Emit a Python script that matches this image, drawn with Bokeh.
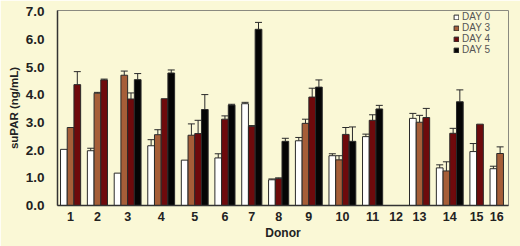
import math
from bokeh.plotting import figure
from bokeh.models import (ColumnDataSource, Range1d, FixedTicker, PrintfTickFormatter,
                          Legend, LegendItem, Whisker, TeeHead)
from bokeh.embed import file_html
from bokeh.resources import INLINE

nan = float("nan")

donors = ["1", "2", "3", "4", "5", "6", "7", "8", "9", "10", "11", "12", "13", "14", "15", "16"]
series_names = ["DAY 0", "DAY 3", "DAY 4", "DAY 5"]
day0 = [2.03, 1.98, 1.17, 2.16, 1.64, 1.72, 3.68, 0.93, 2.34, 1.80, 2.49, nan, 3.15, 1.36, 1.95, 1.33]
day3 = [2.82, 4.06, 4.71, 2.56, 2.54, nan, nan, nan, 2.97, 1.65, nan, nan, 3.01, 1.25, nan, 1.88]
day4 = [4.37, 4.54, 3.85, 3.86, 2.60, 3.12, 2.86, 0.97, 3.92, 2.57, 3.08, nan, 3.18, 2.61, 2.94, nan]
day5 = [nan, nan, 4.55, 4.79, 3.47, 3.63, 6.37, 2.32, 4.28, 2.32, 3.49, nan, nan, 3.75, nan, nan]
err0 = [0, 0.09, 0, 0.22, 0, 0.15, 0.05, 0.03, 0.12, 0.07, 0.09, nan, 0.18, 0.11, 0.29, 0.09]
err3 = [0, 0.03, 0.15, 0.18, 0.41, nan, nan, nan, 0.15, 0.15, nan, nan, 0.25, 0.33, nan, 0.24]
err4 = [0.47, 0.03, 0.22, 0, 0.48, 0.12, 0.03, 0.03, 0.32, 0.25, 0.20, nan, 0.33, 0.18, 0, nan]
err5 = [nan, nan, 0.22, 0.11, 0.54, 0.03, 0.25, 0.11, 0.26, 0.52, 0.13, nan, nan, 0.43, nan, nan]
y_ticks = [0, 1, 2, 3, 4, 5, 6, 7]

colors = ["#FFFFFF", "#A65E38", "#6E0A0C", "#050505"]
values = [day0, day3, day4, day5]
errors = [err0, err3, err4, err5]

# compact layout: present bars of each donor sit side by side, one bar-width gap between donors
xs = [[] for _ in values]
tops = [[] for _ in values]
errs = [[] for _ in values]
centers = []
cursor = 0.0
for d in range(len(donors)):
    present = [s for s in range(len(values)) if not math.isnan(values[s][d])]
    if present:
        for i, s in enumerate(present):
            xs[s].append(cursor + 0.5 + i)
            tops[s].append(values[s][d])
            errs[s].append(errors[s][d])
        centers.append(cursor + len(present) / 2.0)
        cursor += len(present)
    else:
        centers.append(cursor + 1.0)
        cursor += 2.0
    if d < len(donors) - 1:
        cursor += 1.0

BG = "#FAF8D6"
FONT = "Liberation Sans"

p = figure(width=520, height=246, output_backend="svg", toolbar_location=None,
           x_range=Range1d(-0.45, cursor + 0.75), y_range=Range1d(0, 7.05),
           min_border_left=57, min_border_right=12, min_border_top=10, min_border_bottom=41)
p.background_fill_color = BG
p.border_fill_color = BG
p.outline_line_color = "#8a8a80"
p.outline_line_width = 1
p.xgrid.visible = False
p.ygrid.visible = False

renderers = []
for s in range(len(values)):
    src = ColumnDataSource(dict(x=xs[s], top=tops[s]))
    r = p.vbar(x="x", top="top", bottom=0, width=1.0, source=src,
               fill_color=colors[s], line_color="#2a2a2a", line_width=1)
    renderers.append(r)
    ex = [x for x, e in zip(xs[s], errs[s]) if e > 0]
    lo = [t for t, e in zip(tops[s], errs[s]) if e > 0]
    hi = [t + e for t, e in zip(tops[s], errs[s]) if e > 0]
    esrc = ColumnDataSource(dict(x=ex, lower=lo, upper=hi))
    w = Whisker(source=esrc, base="x", lower="lower", upper="upper", dimension="height",
                line_color="#2a2a2a", line_width=1, lower_head=None,
                upper_head=TeeHead(size=7, line_color="#2a2a2a", line_width=1))
    p.add_layout(w)

# axes
p.xaxis.ticker = FixedTicker(ticks=centers)
p.xaxis.major_label_overrides = {c: lab for c, lab in zip(centers, donors)}
p.yaxis.ticker = FixedTicker(ticks=y_ticks)
p.yaxis.formatter = PrintfTickFormatter(format="%.1f")
for ax in (p.xaxis[0], p.yaxis[0]):
    ax.axis_line_color = "#333333"
    ax.axis_line_width = 1.5
    ax.major_tick_line_color = None
    ax.minor_tick_line_color = None
    ax.major_tick_out = 0
    ax.major_tick_in = 0
    ax.major_label_text_font = FONT
    ax.major_label_text_font_style = "bold"
    ax.major_label_text_color = "#222222"
    ax.axis_label_text_font = FONT
    ax.axis_label_text_font_style = "bold"
    ax.axis_label_text_color = "#222222"
p.xaxis.major_label_text_font_size = "12.5px"
p.yaxis.major_label_text_font_size = "13.5px"
p.xaxis.major_label_standoff = 6
p.yaxis.major_label_standoff = 13
p.xaxis.axis_label = "Donor"
p.yaxis.axis_label = "suPAR (ng/mL)"
p.xaxis.axis_label_text_font_size = "12px"
p.yaxis.axis_label_text_font_size = "11.5px"
p.xaxis.axis_label_standoff = 2
p.yaxis.axis_label_standoff = 3

legend = Legend(items=[LegendItem(label=n, renderers=[r]) for n, r in zip(series_names, renderers)],
                location="top_right", margin=1, padding=2, spacing=-3,
                glyph_width=6, glyph_height=6, label_height=9, label_width=45,
                label_standoff=3,
                label_text_font=FONT, label_text_font_size="10px", label_text_color="#555555",
                background_fill_alpha=0, border_line_color=None)
p.add_layout(legend)

open("out.html", "w").write(file_html(p, INLINE))
